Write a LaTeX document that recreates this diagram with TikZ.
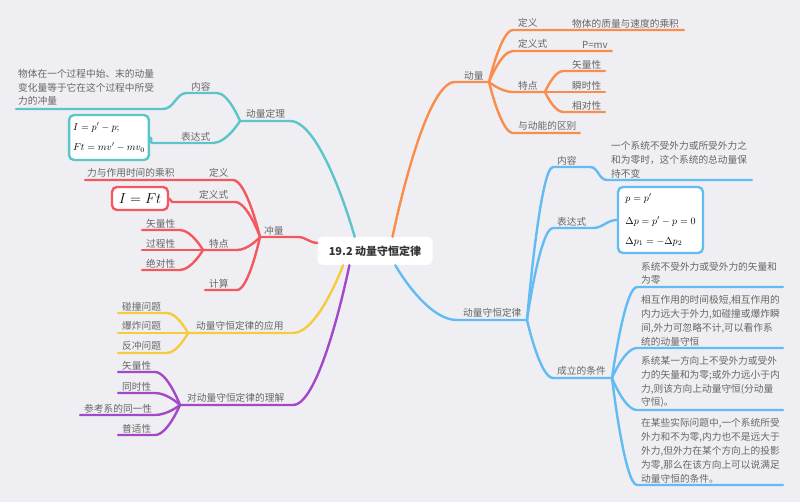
\documentclass[tikz,border=0pt]{standalone}
\usepackage{fontspec}
\setmainfont{Noto Sans CJK SC}
\usepackage{xcolor}
\definecolor{bgc}{HTML}{EFEFF3}
\definecolor{mmorange}{HTML}{FA8C4C}
\definecolor{mmteal}{HTML}{5CC5C8}
\definecolor{mmred}{HTML}{F4585F}
\definecolor{mmyellow}{HTML}{F8CA3F}
\definecolor{mmpurple}{HTML}{A548C8}
\definecolor{mmblue}{HTML}{63BBF4}
\definecolor{txt}{HTML}{666666}
\usepackage{tikz}
\usetikzlibrary{calc}

\begin{document}
\begin{tikzpicture}[x=1pt,y=-1pt,
  lbl/.style={anchor=south west,inner sep=1pt,text=txt,font=\fontsize{9.7}{13.8}\selectfont},
  para/.style={lbl,align=left},
  br/.style={line width=2.4pt,line cap=round,line join=round},
  mathbox/.style={fill=white,line width=2.4pt,rounded corners=5pt,align=left,inner xsep=4pt,
                  font=\fontsize{10}{12}\selectfont},
  mlink/.style={to path={let \p1=(\tikztostart), \p2=(\tikztotarget) in
                .. controls (\p1) and ({(\x1+\x2)/2},\y2) .. (\p2) \tikztonodes}}]
\useasboundingbox[fill=bgc] (0,0) rectangle (800,502);
\node[fill=white,rounded corners=5pt,minimum width=115pt,minimum height=28pt,
      font=\fontsize{11}{13}\selectfont\bfseries,text=black!80] (ctr) at (375,251) {19.2 动量守恒定律};
% 动量
\coordinate (dl-a) at (455,82); \coordinate (dl-b) at (489,82);
\node[lbl] (dl) at (463,81) {动量};
\draw[br,mmorange] (ctr.39) to[mlink] (dl-a) -- (dl-b);
\coordinate (dy-a) at (513,30); \coordinate (dy-b) at (684,30);
\node[lbl] (dy) at (517,29) {定义};
\node[lbl] (dy-t) at (571,29) {物体的质量与速度的乘积};
\draw[br,mmorange] (dl-b) to[mlink] (dy-a) -- (dy-b);
\coordinate (dys-a) at (513,51); \coordinate (dys-b) at (612,51);
\node[lbl] (dys) at (517,50) {定义式};
\node[lbl] (dys-t) at (581,50) {P=mv};
\draw[br,mmorange] (dl-b) to[mlink] (dys-a) -- (dys-b);
\coordinate (td-a) at (513,92); \coordinate (td-b) at (545,92);
\node[lbl] (td) at (517,91) {特点};
\draw[br,mmorange] (dl-b) to[mlink] (td-a) -- (td-b);
\coordinate (td1-a) at (563,71); \coordinate (td1-b) at (605,71);
\node[lbl] (td1) at (571,70) {矢量性};
\draw[br,mmorange] (td-b) to[mlink] (td1-a) -- (td1-b);
\coordinate (td2-a) at (563,92); \coordinate (td2-b) at (605,92);
\node[lbl] (td2) at (571,91) {瞬时性};
\draw[br,mmorange] (td-b) to[mlink] (td2-a) -- (td2-b);
\coordinate (td3-a) at (563,112); \coordinate (td3-b) at (605,112);
\node[lbl] (td3) at (571,111) {相对性};
\draw[br,mmorange] (td-b) to[mlink] (td3-a) -- (td3-b);
\coordinate (dn-a) at (513,133); \coordinate (dn-b) at (580,133);
\node[lbl] (dn) at (517,132) {与动能的区别};
\draw[br,mmorange] (dl-b) to[mlink] (dn-a) -- (dn-b);
% 动量定理
\coordinate (dt-a) at (290,121); \coordinate (dt-b) at (240,121);
\node[lbl] (dt) at (245,120) {动量定理};
\draw[br,mmteal] (ctr.145) to[mlink] (dt-a) -- (dt-b);
\coordinate (nr-a) at (217,93); \coordinate (nr-b) at (187,93);
\coordinate (nr-c) at (163,109); \coordinate (nr-d) at (16,109);
\node[lbl] (nr) at (190,92) {内容};
\node[para] (nr-t) at (17,107) {物体在一个过程中始、末的动量\\变化量等于它在这个过程中所受\\力的冲量};
\draw[br,mmteal] (dt-b) to[mlink] (nr-a) -- (nr-b) to[out=180,in=0] (nr-c) -- (nr-d);
\coordinate (bd-a) at (213,143); \coordinate (bd-b) at (152,143);
\node[lbl] (bd) at (180,142) {表达式};
\node[mathbox,draw=mmteal,minimum width=78pt,minimum height=45pt] (bd-m) at (109,137.5)
  {$I=p'-p;$\\[8pt]$Ft=mv'-mv_0$};
\draw[br,mmteal] (dt-b) to[mlink] (bd-a) -- (bd-b) to[out=180,in=0] (bd-m.east);
% 冲量
\coordinate (cl-a) at (298,237); \coordinate (cl-b) at (260,237);
\node[lbl] (cl) at (263,236) {冲量};
\draw[br,mmred] (ctr.172) to[out=180,in=0] (cl-a) -- (cl-b);
\coordinate (cdy-a) at (233,180); \coordinate (cdy-b) at (85,180);
\node[lbl] (cdy) at (208,179) {定义};
\node[lbl] (cdy-t) at (86,179) {力与作用时间的乘积};
\draw[br,mmred] (cl-b) to[mlink] (cdy-a) -- (cdy-b);
\coordinate (cds-a) at (235,202); \coordinate (cds-b) at (172,202);
\node[lbl] (cds) at (198,201) {定义式};
\node[mathbox,draw=mmred,minimum width=56pt,minimum height=23pt,font=\fontsize{14.4}{16}\selectfont]
  (cds-m) at (140,198.5) {$I=Ft$};
\draw[br,mmred] (cl-b) to[mlink] (cds-a) -- (cds-b) to[out=180,in=0] (cds-m.east);
\coordinate (ctd-a) at (237,250); \coordinate (ctd-b) at (203,250);
\node[lbl] (ctd) at (208,249) {特点};
\draw[br,mmred] (cl-b) to[mlink] (ctd-a) -- (ctd-b);
\coordinate (ctd1-a) at (180,230); \coordinate (ctd1-b) at (142,230);
\node[lbl] (ctd1) at (145,229) {矢量性};
\draw[br,mmred] (ctd-b) to[mlink] (ctd1-a) -- (ctd1-b);
\coordinate (ctd2-a) at (180,250); \coordinate (ctd2-b) at (142,250);
\node[lbl] (ctd2) at (145,249) {过程性};
\draw[br,mmred] (ctd-b) to[mlink] (ctd2-a) -- (ctd2-b);
\coordinate (ctd3-a) at (180,270); \coordinate (ctd3-b) at (142,270);
\node[lbl] (ctd3) at (145,269) {绝对性};
\draw[br,mmred] (ctd-b) to[mlink] (ctd3-a) -- (ctd3-b);
\coordinate (cjs-a) at (237,290); \coordinate (cjs-b) at (205,290);
\node[lbl] (cjs) at (208,289) {计算};
\draw[br,mmred] (cl-b) to[mlink] (cjs-a) -- (cjs-b);
% 应用
\coordinate (yy-a) at (293,333); \coordinate (yy-b) at (188,333);
\node[lbl] (yy) at (195,332) {动量守恒定律的应用};
\draw[br,mmyellow] (ctr.204) to[mlink] (yy-a) -- (yy-b);
\coordinate (yy1-a) at (167,313); \coordinate (yy1-b) at (118,313);
\node[lbl] (yy1) at (121,312) {碰撞问题};
\draw[br,mmyellow] (yy-b) to[mlink] (yy1-a) -- (yy1-b);
\coordinate (yy2-a) at (167,333); \coordinate (yy2-b) at (118,333);
\node[lbl] (yy2) at (121,332) {爆炸问题};
\draw[br,mmyellow] (yy-b) to[mlink] (yy2-a) -- (yy2-b);
\coordinate (yy3-a) at (167,353); \coordinate (yy3-b) at (118,353);
\node[lbl] (yy3) at (121,352) {反冲问题};
\draw[br,mmyellow] (yy-b) to[mlink] (yy3-a) -- (yy3-b);
% 理解
\coordinate (lj-a) at (293,405); \coordinate (lj-b) at (180,405);
\node[lbl] (lj) at (186,404) {对动量守恒定律的理解};
\draw[br,mmpurple] (ctr.209) to[mlink] (lj-a) -- (lj-b);
\coordinate (lj1-a) at (155,372); \coordinate (lj1-b) at (118,372);
\node[lbl] (lj1) at (121,371) {矢量性};
\draw[br,mmpurple] (lj-b) to[mlink] (lj1-a) -- (lj1-b);
\coordinate (lj2-a) at (155,393); \coordinate (lj2-b) at (118,393);
\node[lbl] (lj2) at (121,392) {同时性};
\draw[br,mmpurple] (lj-b) to[mlink] (lj2-a) -- (lj2-b);
\coordinate (lj3-a) at (155,415); \coordinate (lj3-b) at (80,415);
\node[lbl] (lj3) at (83,414) {参考系的同一性};
\draw[br,mmpurple] (lj-b) to[mlink] (lj3-a) -- (lj3-b);
\coordinate (lj4-a) at (155,435); \coordinate (lj4-b) at (118,435);
\node[lbl] (lj4) at (121,434) {普适性};
\draw[br,mmpurple] (lj-b) to[mlink] (lj4-a) -- (lj4-b);
% 动量守恒定律
\coordinate (sh-a) at (457,320); \coordinate (sh-b) at (527,320);
\node[lbl] (sh) at (462,319) {动量守恒定律};
\draw[br,mmblue] (ctr.325) to[mlink] (sh-a) -- (sh-b);
\coordinate (bnr-a) at (553,167); \coordinate (bnr-b) at (590,167);
\coordinate (bnr-c) at (607,180); \coordinate (bnr-d) at (752,180);
\node[lbl] (bnr) at (556,166) {内容};
\node[para] (bnr-t) at (610,179) {一个系统不受外力或所受外力之\\和为零时，这个系统的总动量保\\持不变};
\draw[br,mmblue] (sh-b) to[mlink] (bnr-a) -- (bnr-b) to[out=0,in=180] (bnr-c) -- (bnr-d);
\coordinate (bbd-a) at (553,228); \coordinate (bbd-b) at (593,228);
\node[lbl] (bbd) at (556,227) {表达式};
\node[mathbox,draw=mmblue,minimum width=85pt,minimum height=66pt] (bbd-m) at (660.5,220)
  {$p=p'$\\[11pt]$\Delta p=p'-p=0$\\[8pt]$\Delta p_1=-\Delta p_2$};
\draw[br,mmblue] (sh-b) to[mlink] (bbd-a) -- (bbd-b) to[out=0,in=180] (bbd-m.west);
\coordinate (tj-a) at (553,378); \coordinate (tj-b) at (612,378);
\node[lbl] (tj) at (556,377) {成立的条件};
\draw[br,mmblue] (sh-b) to[mlink] (tj-a) -- (tj-b);
\coordinate (tj1-a) at (637,287); \coordinate (tj1-b) at (783,287);
\node[para] (tj1) at (640,286) {系统不受外力或受外力的矢量和\\为零};
\draw[br,mmblue] (tj-b) to[mlink] (tj1-a) -- (tj1-b);
\coordinate (tj2-a) at (637,348); \coordinate (tj2-b) at (783,348);
\node[para] (tj2) at (640,347) {相互作用的时间极短,相互作用的\\内力远大于外力,如碰撞或爆炸瞬\\间,外力可忽略不计,可以看作系\\统的动量守恒};
\draw[br,mmblue] (tj-b) to[mlink] (tj2-a) -- (tj2-b);
\coordinate (tj3-a) at (637,410); \coordinate (tj3-b) at (783,410);
\node[para] (tj3) at (640,409) {系统某一方向上不受外力或受外\\力的矢量和为零;或外力远小于内\\力,则该方向上动量守恒(分动量\\守恒)。};
\draw[br,mmblue] (tj-b) to[mlink] (tj3-a) -- (tj3-b);
\coordinate (tj4-a) at (637,485); \coordinate (tj4-b) at (783,485);
\node[para] (tj4) at (640,484) {在某些实际问题中,一个系统所受\\外力和不为零,内力也不是远大于\\外力,但外力在某个方向上的投影\\为零,那么在该方向上可以说满足\\动量守恒的条件。};
\draw[br,mmblue] (tj-b) to[mlink] (tj4-a) -- (tj4-b);
\end{tikzpicture}
\end{document}
